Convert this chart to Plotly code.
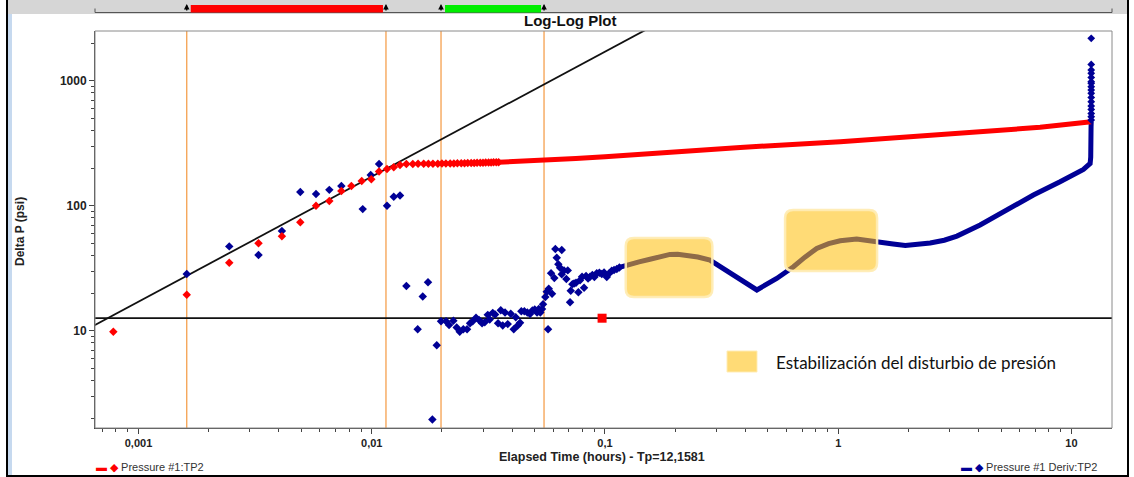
import math
import plotly.graph_objects as go

# ---------------- data ----------------
# Pressure #1:TP2 (red) - individual early points
red_pts_x = [0.00078, 0.00161, 0.00245, 0.00327, 0.00412, 0.00494, 0.00577, 0.00658,
             0.00741, 0.00818, 0.00906, 0.00996, 0.01075, 0.01163, 0.01243, 0.01322,
             0.01408, 0.0150, 0.0158, 0.0167, 0.0175, 0.0183, 0.0192, 0.0200, 0.0208,
             0.0217, 0.0225, 0.0233, 0.0242, 0.0250, 0.0258, 0.0267, 0.0275, 0.0283,
             0.0292, 0.0300, 0.0308, 0.0317, 0.0325, 0.0333, 0.0342, 0.0350]
red_pts_y = [9.8, 19.4, 35.0, 50.2, 57.0, 73.7, 100, 109,
             131, 144, 158, 163, 188, 197, 203, 212,
             216, 216, 217, 217, 217, 217, 217, 218, 218,
             218, 218, 219, 219, 219, 220, 220, 220, 221,
             221, 221, 222, 222, 222, 223, 223, 223]
# Pressure #1:TP2 (red) - dense part
red_dense_x = [0.0350, 0.040, 0.047, 0.055, 0.075, 0.10, 0.15, 0.21, 0.38, 1.02, 2.74, 7.34, 12.16]
red_dense_y = [223, 225, 228, 232, 239, 247, 260, 273, 293, 325, 372, 424, 470]

# Pressure #1 Deriv:TP2 (blue) - scattered points
blue_pts_x = [0.00161, 0.00245, 0.00327, 0.00412, 0.00494, 0.00577, 0.00658, 0.00741,
              0.00915, 0.0099, 0.01075, 0.01163, 0.01243, 0.01322, 0.01408, 0.01574,
              0.01655, 0.01743, 0.0182, 0.0190,
              0.01982, 0.02083, 0.02146, 0.02239, 0.02314, 0.02384, 0.0247, 0.02563,
              0.0264, 0.0271, 0.0280, 0.02884, 0.02972, 0.03052, 0.03144, 0.03206,
              0.03303, 0.03379, 0.03481, 0.03575, 0.03645, 0.03729, 0.0383, 0.03945,
              0.04064, 0.04144, 0.04227, 0.04325, 0.0438, 0.04512, 0.04648, 0.04773,
              0.04883, 0.0500, 0.05115, 0.0520, 0.05284, 0.05373, 0.05427, 0.05552,
              0.05629, 0.05702, 0.05741, 0.05873, 0.05931, 0.06067, 0.06128, 0.06213,
              0.06312, 0.0642, 0.06527, 0.06527, 0.06678, 0.06831, 0.06927, 0.07087,
              0.07134, 0.07249, 0.07372, 0.07516, 0.07691, 0.0782, 0.07976, 0.08135,
              0.08299, 0.08463, 0.0863, 0.08831, 0.09008, 0.09222, 0.09463, 0.0969,
              0.09912, 0.1018, 0.1044, 0.1069, 0.1094, 0.1124, 0.1153]
blue_pts_y = [28.4, 47.3, 40.3, 62.7, 129, 124, 134, 144,
              94, 176, 216, 100, 118, 121, 22.8, 10.3,
              18.8, 24.4, 1.95, 7.65,
              11.9, 11.9, 11.1, 12.0, 10.6, 9.8, 10.3, 10.3,
              11.5, 11.9, 12.7, 12.2, 11.5, 11.7, 13.4, 12.3,
              13.9, 13.5, 11.5, 14.6, 11.0, 14.0, 11.3, 13.7,
              10.3, 12.8, 11.0, 11.6, 14.3, 14.3, 14.0, 13.6,
              14.5, 14.8, 14.0, 14.9, 14.0, 14.9, 16.3, 18.6,
              20.5, 10.3, 21.7, 28.9, 19.8, 26.4, 45.0, 38.4,
              34.0, 31.9, 44.2, 28.3, 30.4, 25.9, 30.4, 16.9,
              20.9, 23.6, 23.9, 24.2, 20.3, 25.4, 27.0, 22.1,
              27.4, 26.2, 27.0, 27.9, 26.9, 28.8, 29.1, 28.4,
              29.3, 26.9, 28.8, 30.2, 30.6, 31.2, 32.1]
# Pressure #1 Deriv:TP2 (blue) - dense curve
blue_dense_x = [0.1153, 0.124, 0.140, 0.156, 0.175, 0.190, 0.205, 0.224, 0.250, 0.282,
                0.355, 0.448, 0.545, 0.643, 0.72, 0.809, 0.91, 1.02, 1.20, 1.42, 1.72,
                1.94, 2.17, 2.48, 2.85, 3.23, 4.06, 5.28, 6.87, 8.94, 11.26, 12.03,
                12.10, 12.14, 12.16]
blue_dense_y = [32.1, 33.5, 35.6, 37.3, 39.4, 40.8, 41.0, 40.3, 38.9, 36.8,
                27.9, 21.2, 26.2, 32.5, 38.8, 45.6, 49.8, 52.5, 54.2, 51.5, 49.4,
                48.0, 49.0, 50.3, 53.0, 57.2, 70.1, 93.5, 121.8, 155.6, 195.5, 218,
                245, 430, 470]
# Pressure #1 Deriv:TP2 (blue) - last points above the red curve
blue_end_x = [12.16] * 17
blue_end_y = [2183, 1352, 1219, 1146, 1064, 982, 953, 895, 843, 793, 736, 679, 628, 590, 548, 515, 485]

# Reference lines / markers
vlines_x = [0.00161, 0.01151, 0.01982, 0.0548]
hline_y = 12.6
slope_line_x = [0.00050, 0.20]          # unit-slope line through (0.00161, 27.5)
slope_anchor = (0.00161, 27.5)
red_square_x = [0.0972]
red_square_y = [12.6]

# Highlight boxes (data extents)
boxes = [([0.1228, 0.2887], [18.6, 55.2]), ([0.592, 1.468], [30.0, 92.4])]

x_tick_vals = [0.001, 0.01, 0.1, 1, 10]
x_tick_text = ["0,001", "0,01", "0,1", "1", "10"]
y_tick_vals = [10, 100, 1000]
y_tick_text = ["10", "100", "1000"]

# ---------------- layout geometry ----------------
W, H = 1134, 477
L, R, T, B = 95, 22, 31, 49
PW, PH = W - L - R, H - T - B
XR = [-3.1865, 1.174]
YR = [0.222, 3.398]


def dpx(v):  # data x -> paper
    return (math.log10(v) - XR[0]) / (XR[1] - XR[0])


def dpy(v):  # data y -> paper
    return (math.log10(v) - YR[0]) / (YR[1] - YR[0])


def ppx(p):  # pixel x -> paper
    return (p - L) / PW


def ppy(p):  # pixel y -> paper
    return (H - B - p) / PH


def rrect(x0, x1, y0, y1, r):
    rx, ry = r / PW, r / PH
    return (f"M{x0+rx},{y0} L{x1-rx},{y0} Q{x1},{y0} {x1},{y0+ry} L{x1},{y1-ry} "
            f"Q{x1},{y1} {x1-rx},{y1} L{x0+rx},{y1} Q{x0},{y1} {x0},{y1-ry} "
            f"L{x0},{y0+ry} Q{x0},{y0} {x0+rx},{y0} Z")


RED = "#ff0000"
BLUE = "#000096"
ORANGE = "#f5a04e"
FONT = "Liberation Sans Narrow, Liberation Sans, Arial, sans-serif"

fig = go.Figure()

ymin, ymax = 10 ** YR[0], 10 ** YR[1]
vx, vy = [], []
for v in vlines_x:
    vx += [v, v, None]
    vy += [ymin, ymax, None]
fig.add_trace(go.Scatter(x=vx, y=vy, mode="lines", line=dict(color=ORANGE, width=1.3),
                         hoverinfo="skip"))

k = slope_anchor[1] / slope_anchor[0]
fig.add_trace(go.Scatter(x=slope_line_x, y=[k * v for v in slope_line_x], mode="lines",
                         line=dict(color="#111111", width=1.8), hoverinfo="skip"))
fig.add_trace(go.Scatter(x=[10 ** XR[0], 10 ** XR[1]], y=[hline_y, hline_y], mode="lines",
                         line=dict(color="#111111", width=1.8), hoverinfo="skip"))

fig.add_trace(go.Scatter(x=blue_dense_x, y=blue_dense_y, mode="lines",
                         line=dict(color=BLUE, width=5)))
fig.add_trace(go.Scatter(x=blue_pts_x, y=blue_pts_y, mode="markers",
                         marker=dict(symbol="diamond", size=6.5, color=BLUE)))
fig.add_trace(go.Scatter(x=red_dense_x, y=red_dense_y, mode="lines",
                         line=dict(color=RED, width=5)))
fig.add_trace(go.Scatter(x=red_pts_x, y=red_pts_y, mode="markers",
                         marker=dict(symbol="diamond", size=6.5, color=RED)))
fig.add_trace(go.Scatter(x=blue_end_x, y=blue_end_y, mode="markers",
                         marker=dict(symbol="diamond", size=6, color=BLUE)))
fig.add_trace(go.Scatter(x=red_square_x, y=red_square_y, mode="markers",
                         marker=dict(symbol="square", size=9, color=RED)))

shapes = []
# outer frame and left strip
shapes.append(dict(type="rect", xref="paper", yref="paper", x0=ppx(8), x1=ppx(12),
                   y0=ppy(475), y1=ppy(13), fillcolor="#c6d9ef", line=dict(width=0), layer="below"))
shapes.append(dict(type="rect", xref="paper", yref="paper", x0=ppx(8), x1=ppx(1128),
                   y0=ppy(14), y1=ppy(-2), fillcolor="#d6d6d6", line=dict(width=0), layer="below"))
shapes.append(dict(type="rect", xref="paper", yref="paper", x0=ppx(7), x1=ppx(1128),
                   y0=ppy(476), y1=ppy(-1), line=dict(color="#000000", width=2)))
# plot frame
shapes.append(dict(type="rect", xref="paper", yref="paper", x0=0, x1=1, y0=0, y1=1,
                   line=dict(color="#8a8a8a", width=1)))
# top range bar
bar_y = ppy(12.5)
shapes.append(dict(type="line", xref="paper", yref="paper", x0=0, x1=1, y0=bar_y, y1=bar_y,
                   line=dict(color="#555555", width=1)))
for xe in (0, 1):
    shapes.append(dict(type="line", xref="paper", yref="paper", x0=xe, x1=xe, y0=bar_y,
                       y1=ppy(8.5), line=dict(color="#555555", width=1)))
shapes.append(dict(type="rect", xref="paper", yref="paper",
                   x0=dpx(vlines_x[0]) + 4 / PW, x1=dpx(vlines_x[1]) - 3 / PW,
                   y0=ppy(12.5), y1=ppy(5), fillcolor="#ff0000", line=dict(width=0)))
shapes.append(dict(type="rect", xref="paper", yref="paper",
                   x0=dpx(vlines_x[2]) + 4 / PW, x1=dpx(vlines_x[3]) - 3 / PW,
                   y0=ppy(12.5), y1=ppy(5), fillcolor="#00ee00", line=dict(width=0)))
# highlight boxes
for (bx, by) in boxes:
    shapes.append(dict(type="path", xref="paper", yref="paper",
                       path=rrect(dpx(bx[0]), dpx(bx[1]), dpy(by[0]), dpy(by[1]), 8),
                       fillcolor="rgba(255,190,10,0.56)",
                       line=dict(color="rgba(255,236,180,0.95)", width=2.5)))
# annotation swatch
shapes.append(dict(type="rect", xref="paper", yref="paper", x0=ppx(727), x1=ppx(757),
                   y0=ppy(372), y1=ppy(351), fillcolor="rgba(255,190,10,0.56)",
                   line=dict(color="rgba(255,236,180,0.95)", width=1)))

annotations = []
for v in vlines_x:
    annotations.append(dict(xref="paper", yref="paper", x=dpx(v), y=ppy(4), ax=0, ay=8,
                            text="", showarrow=True, arrowhead=2, arrowsize=0.8,
                            arrowwidth=1.4, arrowcolor="#000000"))
annotations += [
    dict(xref="paper", yref="paper", x=ppx(570), y=ppy(20), xanchor="center", yanchor="middle",
         text="<b>Log-Log Plot</b>",
         showarrow=False, font=dict(family=FONT, size=15, color="#111111")),
    dict(xref="paper", yref="paper", x=ppx(602), y=ppy(457), xanchor="center", yanchor="middle",
         text="<b>Elapsed Time (hours) - Tp=12,1581</b>", showarrow=False,
         font=dict(family=FONT, size=12.5, color="#222222")),
    dict(xref="paper", yref="paper", x=ppx(20), y=ppy(232), xanchor="center", yanchor="middle",
         text="<b>Delta P (psi)</b>",
         textangle=-90, showarrow=False, font=dict(family=FONT, size=12, color="#222222")),
    dict(xref="paper", yref="paper", x=ppx(94), y=ppy(467), xanchor="left", yanchor="middle",
         text='<span style="color:#ff0000"><b>▬</b> ◆</span> Pressure #1:TP2', showarrow=False,
         font=dict(family=FONT, size=11, color="#333333")),
    dict(xref="paper", yref="paper", x=ppx(959), y=ppy(467), xanchor="left", yanchor="middle",
         text='<span style="color:#000096"><b>▬</b> ◆</span> Pressure #1 Deriv:TP2', showarrow=False,
         font=dict(family=FONT, size=11, color="#333333")),
    dict(xref="paper", yref="paper", x=ppx(774), y=ppy(362), xanchor="left", yanchor="middle",
         text="Estabilización del disturbio de presión", showarrow=False,
         font=dict(family="Lato, Open Sans, sans-serif", size=17, color="#111111")),
]

x_minor = [m * 10 ** d for d in range(-4, 2) for m in range(2, 10)]
y_minor = [m * 10 ** d for d in range(0, 4) for m in range(2, 10)]

fig.update_layout(
    width=W, height=H,
    margin=dict(l=L, r=R, t=T, b=B),
    paper_bgcolor="#ffffff", plot_bgcolor="#ffffff",
    showlegend=False,
    shapes=shapes, annotations=annotations,
    xaxis=dict(type="log", range=XR, showgrid=False, zeroline=False,
               showline=True, linecolor="#444444", linewidth=1,
               tickmode="array", tickvals=x_tick_vals, ticktext=x_tick_text,
               ticks="outside", ticklen=5, tickcolor="#444444",
               tickfont=dict(family=FONT, size=11, color="#222222", weight="bold"),
               minor=dict(tickmode="array", tickvals=x_minor, ticks="outside", ticklen=3,
                          tickcolor="#444444", showgrid=False)),
    yaxis=dict(type="log", range=YR, showgrid=False, zeroline=False,
               showline=True, linecolor="#444444", linewidth=1,
               tickmode="array", tickvals=y_tick_vals, ticktext=y_tick_text,
               ticks="outside", ticklen=5, tickcolor="#444444",
               tickfont=dict(family=FONT, size=12, color="#222222", weight="bold"),
               minor=dict(tickmode="array", tickvals=y_minor, ticks="outside", ticklen=3,
                          tickcolor="#444444", showgrid=False)),
)

fig.write_html("out.html", config={"displayModeBar": False},
               post_script="document.body.style.margin='0';")
